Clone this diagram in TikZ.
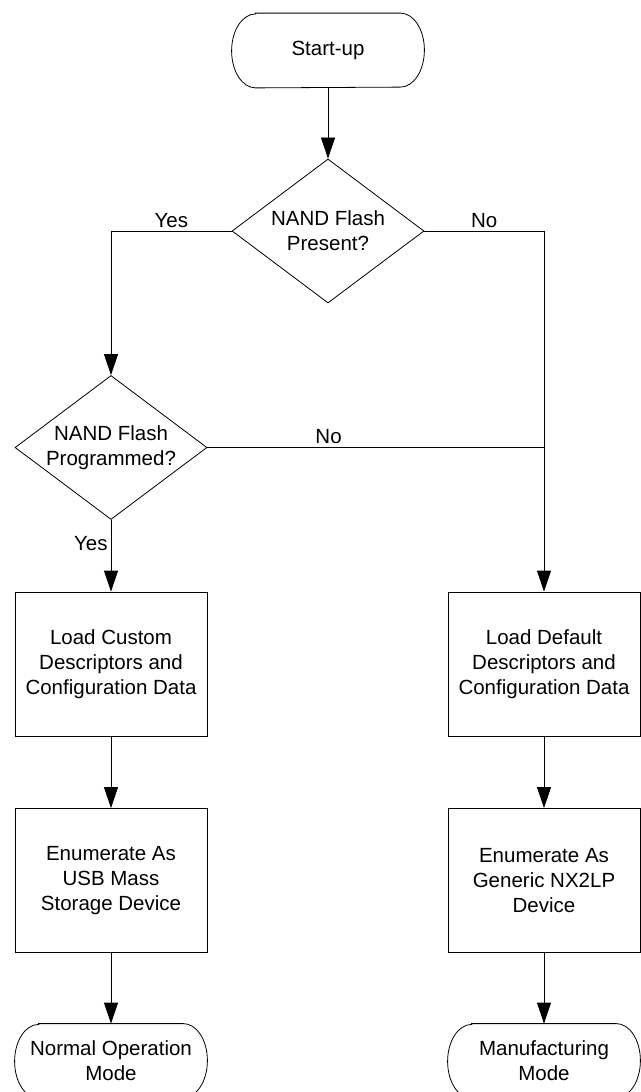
\documentclass[tikz,border=0pt]{standalone}
\usepackage{fontspec}
\setmainfont{Liberation Sans}
\usetikzlibrary{arrows.meta}
\usetikzlibrary{shapes.geometric}

\begin{document}
\begin{tikzpicture}[
	x=1pt, y=1pt,
	line width=0.8pt,
	>={Triangle[length=21pt, width=14pt]},
	font=\fontsize{20.5}{25}\selectfont,
	term/.style={rectangle, minimum width=192pt, minimum height=74pt, inner sep=0pt, align=center},
	decision/.style={draw, diamond, aspect=1.333, minimum width=192pt, minimum height=144pt, inner sep=0pt, align=center},
	stepbox/.style={draw, rectangle, minimum width=192pt, minimum height=144pt, inner sep=0pt, align=center},
	lbl/.style={inner sep=3pt}]

	\def\termshape(#1)% Syntax: (node name), flat elliptic ends
		{\draw ([xshift=24pt]#1.north west) -- ([xshift=-24pt]#1.north east)
			arc[start angle=90, end angle=-90, x radius=24pt, y radius=37pt]
			-- ([xshift=24pt]#1.south west)
			arc[start angle=270, end angle=90, x radius=24pt, y radius=37pt] -- cycle; }

	\useasboundingbox (0,0) rectangle (640,-1092);

	\node[term] (start) at (328,-50.5) {Start-up};
	\termshape(start)

	\node[decision] (present) at (328,-231) {NAND Flash\\Present?};
	\node[decision] (programmed) at (111,-447.5) {NAND Flash\\Programmed?};

	% left column
	\node[stepbox] (custom) at (111,-664) {Load Custom\\Descriptors and\\Configuration Data};
	\node[stepbox] (usbdev) at (111,-880.5) {Enumerate As\\USB Mass\\Storage Device};
	\node[term] (normal) at (111,-1061) {Normal Operation\\Mode};
	\termshape(normal)

	% right column
	\node[stepbox] (default) at (544,-664) {Load Default\\Descriptors and\\Configuration Data};
	\node[stepbox] (nx2lp) at (544,-880.5) {Enumerate As\\Generic NX2LP\\Device};
	\node[term] (manuf) at (544,-1061) {Manufacturing\\Mode};
	\termshape(manuf)

	\draw [->] (start) -- (present);
	\draw [->] (present.west) -| (programmed.north) node [lbl, pos=0.25, above] {Yes};
	\draw [->] (present.east) -| (default.north) node [lbl, pos=0.25, above] {No};

	\coordinate (join) at (programmed.east -| default.north);
	\draw (programmed.east) -- (join) node [lbl, pos=0.36, above] {No};
	\draw [->] (programmed) -- (custom) node [lbl, pos=0.33, left] {Yes};

	\draw [->] (custom) -- (usbdev);
	\draw [->] (usbdev) -- (normal);
	\draw [->] (default) -- (nx2lp);
	\draw [->] (nx2lp) -- (manuf);

\end{tikzpicture}
\end{document}
